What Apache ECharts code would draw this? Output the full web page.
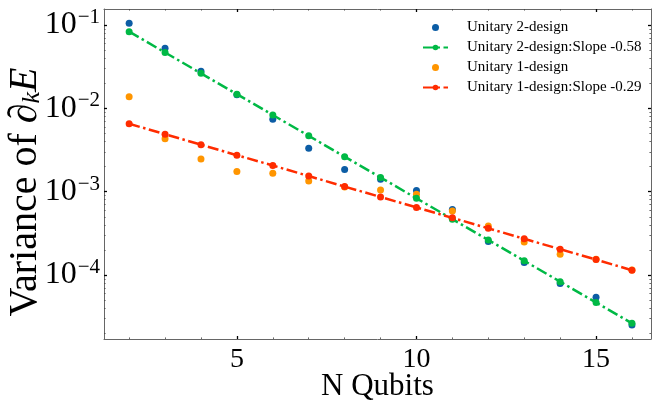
<!DOCTYPE html>
<html>
<head>
<meta charset="utf-8">
<script src="https://cdn.jsdelivr.net/npm/echarts@6/dist/echarts.min.js"></script>
<style>
  html, body { margin: 0; padding: 0; background: #fff; }
  #chart { width: 654px; height: 403px; }
</style>
</head>
<body>
<div id="chart"></div>
<script>
// number of qubits
var qubits = [2, 3, 4, 5, 6, 7, 8, 9, 10, 11, 12, 13, 14, 15, 16];
// Unitary 2-design: measured variance and fitted line
var design2 = [0.1047, 0.0525, 0.0278, 0.0146, 0.00738, 0.00331, 0.00185, 0.00141, 0.00103, 0.000611, 0.000252, 0.000141, 0.000079, 0.000054, 0.0000251];
var design2Fit = [0.0832, 0.0468, 0.0263, 0.0148, 0.00832, 0.00468, 0.00263, 0.00148, 0.000832, 0.000468, 0.000263, 0.000148, 0.0000832, 0.0000468, 0.0000263];
// Unitary 1-design: measured variance and fitted line
var design1 = [0.0138, 0.00433, 0.00247, 0.00175, 0.00166, 0.00134, 0.00114, 0.00105, 0.000929, 0.000586, 0.000387, 0.000249, 0.000177, 0.000155, 0.000115];
var design1Fit = [0.00653, 0.00489, 0.00366, 0.00274, 0.00206, 0.00154, 0.00115, 0.000864, 0.000647, 0.000485, 0.000363, 0.000272, 0.000204, 0.000153, 0.000114];
var seriesNames = ['Unitary 2-design', 'Unitary 2-design:Slope -0.58', 'Unitary 1-design', 'Unitary 1-design:Slope -0.29'];

// tick positions
var xMajor = [5, 10, 15];
var xMinor = [2, 3, 4, 6, 7, 8, 9, 11, 12, 13, 14, 16];
var yMajor = [1e-4, 1e-3, 1e-2, 1e-1];
var yMinor = [2e-5, 3e-5, 4e-5, 5e-5, 6e-5, 7e-5, 8e-5, 9e-5,
              2e-4, 3e-4, 4e-4, 5e-4, 6e-4, 7e-4, 8e-4, 9e-4,
              2e-3, 3e-3, 4e-3, 5e-3, 6e-3, 7e-3, 8e-3, 9e-3,
              2e-2, 3e-2, 4e-2, 5e-2, 6e-2, 7e-2, 8e-2, 9e-2];

var xMin = 1.3, xMax = 16.53;
var yMin = 1.706e-5, yMax = 0.1556;

function pairs(ys) {
    var out = [];
    for (var i = 0; i < qubits.length; i++) out.push([qubits[i], ys[i]]);
    return out;
}

var font = 'Liberation Serif';
var dashDot = [11, 3.5, 2.5, 3.5];

var myChart = echarts.init(document.getElementById('chart'));

function yLabel(v) {
    var p = Math.round(Math.log10(v));
    return '{b|10}{s|\u2212' + Math.abs(p) + '}';
}

var lineStyleAxis = { show: true, onZero: false, lineStyle: { color: '#666', width: 1 } };
function majorTick(vals) {
    return { show: true, inside: true, length: 3, customValues: vals, lineStyle: { color: '#000', width: 1.3 } };
}
function minorTick(vals) {
    return { show: true, inside: true, length: 1.6, customValues: vals, lineStyle: { color: '#444', width: 0.8 } };
}

function xAx(pos, ticks, isMinor, withLabel) {
    var a = {
        type: 'value', position: pos, min: xMin, max: xMax,
        axisLine: isMinor ? { show: false } : lineStyleAxis,
        axisTick: isMinor ? minorTick(ticks) : majorTick(ticks),
        splitLine: { show: false },
        axisLabel: { show: false }
    };
    if (withLabel) {
        a.axisLabel = { show: true, customValues: xMajor, margin: 7, fontFamily: font, fontSize: 28, color: '#000' };
        a.name = 'N Qubits';
        a.nameLocation = 'middle';
        a.nameGap = 32;
        a.nameMoveOverlap = false;
        a.nameTextStyle = { fontFamily: font, fontSize: 31, color: '#000' };
    }
    return a;
}
function yAx(pos, ticks, isMinor, withLabel) {
    var a = {
        type: 'log', logBase: 10, position: pos, min: yMin, max: yMax,
        axisLine: isMinor ? { show: false } : lineStyleAxis,
        axisTick: isMinor ? minorTick(ticks) : majorTick(ticks),
        splitLine: { show: false },
        axisLabel: { show: false }
    };
    if (withLabel) {
        a.axisLabel = {
            show: true, customValues: yMajor, margin: 4, formatter: yLabel,
            rich: {
                b: { fontFamily: font, fontSize: 32, color: '#000' },
                s: { fontFamily: font, fontSize: 21, color: '#000', padding: [0, 0, 15, 1] }
            }
        };
        a.name = '{t|Variance of \u2202}{k|k}{e|E}';
        a.nameLocation = 'middle';
        a.nameGap = 59;
        a.nameRotate = 90;
        a.nameMoveOverlap = false;
        a.nameTextStyle = {
            padding: [0, 36, 0, 0],
            rich: {
                t: { fontFamily: font, fontSize: 40, color: '#000' },
                k: { fontFamily: font, fontSize: 26, fontStyle: 'italic', color: '#000', padding: [14, 0, 0, 0] },
                e: { fontFamily: font, fontSize: 40, fontStyle: 'italic', color: '#000' }
            }
        };
    }
    return a;
}

var option = {
    backgroundColor: '#fff',
    animation: false,
    grid: { left: 104, right: 3, top: 9, bottom: 64, outerBoundsMode: 'none', containLabel: false },
    legend: {
        orient: 'vertical',
        left: 417,
        top: 15,
        itemWidth: 25,
        itemHeight: 7,
        itemGap: 5,
        data: seriesNames,
        textStyle: { fontFamily: font, fontSize: 15, color: '#000', lineHeight: 14, padding: [0, 0, 0, 14] }
    },
    xAxis: [
        xAx('bottom', xMajor, false, true),
        xAx('top', xMajor, false, false),
        xAx('bottom', xMinor, true, false),
        xAx('top', xMinor, true, false)
    ],
    yAxis: [
        yAx('left', yMajor, false, true),
        yAx('right', yMajor, false, false),
        yAx('left', yMinor, true, false),
        yAx('right', yMinor, true, false)
    ],
    series: [{
        name: seriesNames[0],
        type: 'scatter',
        symbol: 'circle',
        symbolSize: 7,
        itemStyle: { color: '#0C5DA5', opacity: 1 },
        data: pairs(design2)
    }, {
        name: seriesNames[1],
        type: 'line',
        symbol: 'circle',
        symbolSize: 7,
        showSymbol: true,
        itemStyle: { color: '#00B945' },
        lineStyle: { color: '#00B945', width: 2.5, type: dashDot },
        data: pairs(design2Fit)
    }, {
        name: seriesNames[2],
        type: 'scatter',
        symbol: 'circle',
        symbolSize: 7,
        itemStyle: { color: '#FF9500', opacity: 1 },
        data: pairs(design1)
    }, {
        name: seriesNames[3],
        type: 'line',
        symbol: 'circle',
        symbolSize: 7,
        showSymbol: true,
        itemStyle: { color: '#FF2C00' },
        lineStyle: { color: '#FF2C00', width: 2.5, type: dashDot },
        data: pairs(design1Fit)
    }]
};

myChart.setOption(option);
</script>
</body>
</html>
